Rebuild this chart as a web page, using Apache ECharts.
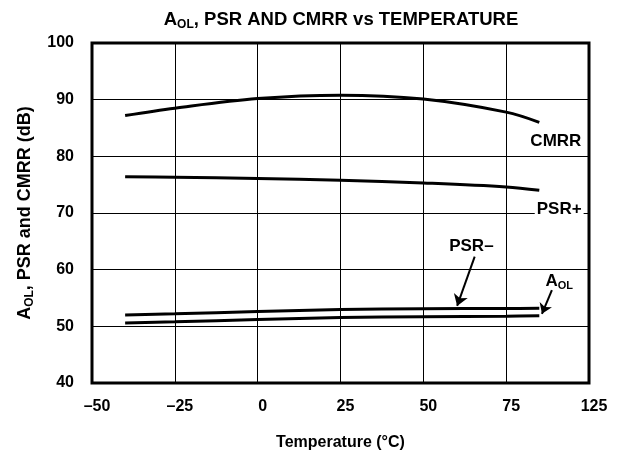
<!DOCTYPE html>
<html>
<head>
<meta charset="utf-8">
<script src="https://cdn.jsdelivr.net/npm/echarts@6/dist/echarts.min.js"></script>
<style>
html,body{margin:0;padding:0;background:#fff}
#container{width:617px;height:458px}
</style>
</head>
<body>
<div id="container"></div>
<script>
// values
var temps = [-40, -25, 0, 25, 50, 75, 85];
var cmrr = [87.2, 88.5, 90.2, 90.8, 90.1, 87.8, 86.0];
var psrPlus = [76.4, 76.3, 76.1, 75.8, 75.3, 74.6, 74.0];
var psrMinus = [52.0, 52.2, 52.6, 52.95, 53.1, 53.15, 53.2];
var aol = [50.6, 50.8, 51.2, 51.55, 51.7, 51.8, 51.85];
// the original sheet labels the last tick 125 (not 100)
var xTickLabels = ['–50', '–25', '0', '25', '50', '75', '125'];
var xMin = -50, xMax = 100, xStep = 25;
var yMin = 40, yMax = 100, yStep = 10;

var font = "'Liberation Sans', Arial, sans-serif";

function pairs(ys) {
    var out = [];
    for (var i = 0; i < temps.length; i++) {
        out.push([temps[i], ys[i]]);
    }
    return out;
}

var subRich = {
    a: {fontFamily: font, fontWeight: 'bold', fontSize: 17, color: '#000', lineHeight: 20},
    s: {fontFamily: font, fontWeight: 'bold', fontSize: 11, color: '#000', lineHeight: 12, verticalAlign: 'bottom'}
};

function curve(name, ys, extra) {
    var s = {
        name: name,
        type: 'line',
        data: pairs(ys),
        smooth: 0.35,
        showSymbol: false,
        lineStyle: {color: '#000', width: 3},
        z: 3
    };
    for (var k in extra) s[k] = extra[k];
    return s;
}

function tag(coord, text, more) {
    var lbl = {
        show: true,
        position: 'inside',
        formatter: text,
        color: '#000',
        fontFamily: font,
        fontWeight: 'bold',
        fontSize: 17
    };
    for (var k in more) lbl[k] = more[k];
    return {coord: coord, symbol: 'rect', symbolSize: 1, itemStyle: {color: 'rgba(0,0,0,0)'}, label: lbl};
}

function arrow(from, to) {
    return [{coord: from}, {coord: to}];
}

var dom = document.getElementById('container');
var myChart = echarts.init(dom);
var option = {
    animation: false,
    backgroundColor: '#fff',
    title: {
        text: '{a|A}{s|OL}{a|, PSR AND CMRR vs TEMPERATURE}',
        left: 336,
        textAlign: 'center',
        top: 4,
        textStyle: {rich: {
            a: {fontFamily: font, fontWeight: 'bold', fontSize: 18.5, color: '#000', lineHeight: 22},
            s: {fontFamily: font, fontWeight: 'bold', fontSize: 12, color: '#000', lineHeight: 13, verticalAlign: 'bottom'}
        }}
    },
    grid: {
        left: 92, right: 28, top: 43, bottom: 75,
        show: true, borderColor: '#000', borderWidth: 3
    },
    xAxis: {
        type: 'value',
        min: xMin, max: xMax, interval: xStep,
        name: 'Temperature (°C)',
        nameLocation: 'middle',
        nameGap: 52,
        nameTextStyle: {fontFamily: font, fontWeight: 'bold', fontSize: 16, color: '#000'},
        axisLine: {show: false},
        axisTick: {show: false},
        axisLabel: {
            margin: 16,
            padding: [0, 0, 0, 10],
            fontFamily: font, fontWeight: 'bold', fontSize: 16, color: '#000',
            formatter: function (v) {
                return xTickLabels[Math.round((v - xMin) / xStep)];
            }
        },
        splitLine: {show: true, lineStyle: {color: '#000', width: 1}}
    },
    yAxis: {
        type: 'value',
        min: yMin, max: yMax, interval: yStep,
        name: '{a|A}{s|OL}{a|, PSR and CMRR (dB)}',
        nameLocation: 'middle',
        nameGap: 56,
        nameTextStyle: {rich: {
            a: {fontFamily: font, fontWeight: 'bold', fontSize: 18, color: '#000', lineHeight: 22},
            s: {fontFamily: font, fontWeight: 'bold', fontSize: 12, color: '#000', lineHeight: 13, verticalAlign: 'bottom'}
        }},
        axisLine: {show: false},
        axisTick: {show: false},
        axisLabel: {margin: 18, fontFamily: font, fontWeight: 'bold', fontSize: 16, color: '#000'},
        splitLine: {show: true, lineStyle: {color: '#000', width: 1}}
    },
    series: [
        curve('CMRR', cmrr, {
            markPoint: {data: [tag([90, 82.7], 'CMRR')]}
        }),
        curve('PSR+', psrPlus, {
            markPoint: {data: [tag([91, 70.7], 'PSR+', {backgroundColor: '#fff', padding: [1, 2]})]}
        }),
        curve('PSR–', psrMinus, {
            markPoint: {data: [tag([64.5, 64.2], 'PSR–')]},
            markLine: {
                symbol: ['none', 'arrow'], symbolSize: 11, silent: true,
                lineStyle: {color: '#000', width: 2, type: 'solid'},
                label: {show: false},
                data: [arrow([65.5, 62.3], [60.2, 53.6])]
            }
        }),
        curve('AOL', aol, {
            markPoint: {data: [tag([91, 58], '{a|A}{s|OL}', {rich: subRich})]},
            markLine: {
                symbol: ['none', 'arrow'], symbolSize: 10, silent: true,
                lineStyle: {color: '#000', width: 2, type: 'solid'},
                label: {show: false},
                data: [arrow([88.8, 56.4], [85.8, 52.2])]
            }
        })
    ]
};
if (option && typeof option === "object") {
    myChart.setOption(option, true);
}
</script>
</body>
</html>
